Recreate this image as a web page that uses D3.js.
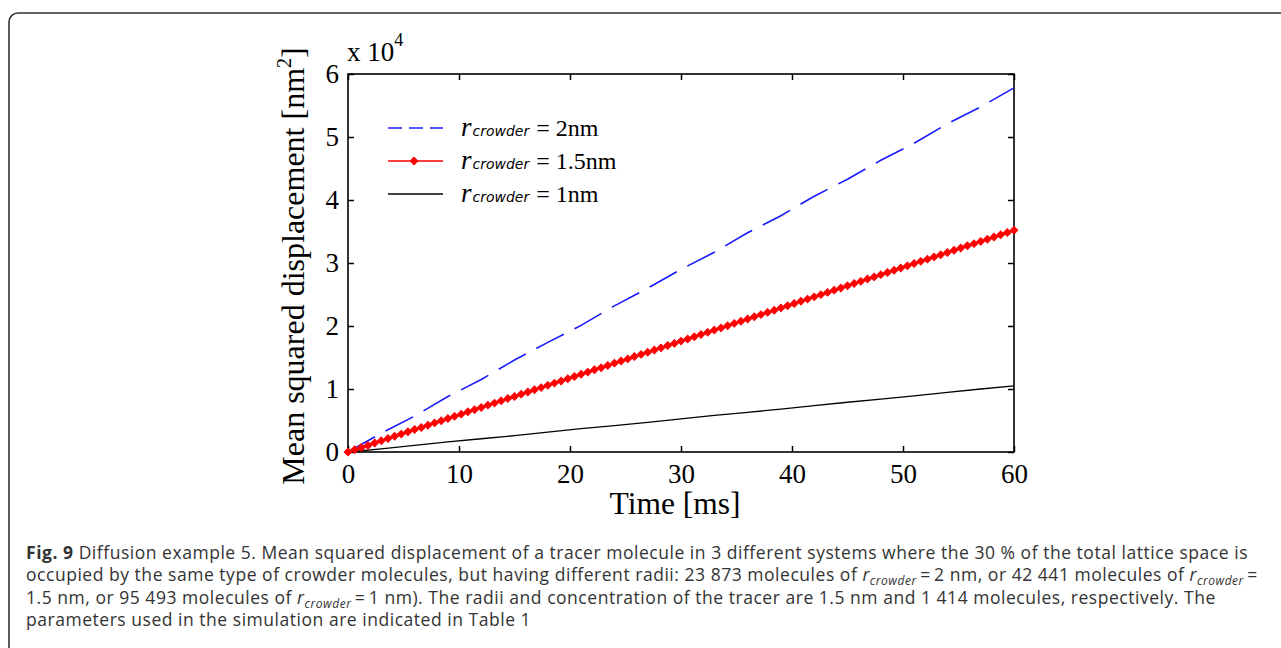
<!DOCTYPE html>
<html>
<head>
<meta charset="utf-8">
<script src="https://cdn.jsdelivr.net/npm/d3@7"></script>
<style>
  body { margin: 0; background: #fff; }
  svg { display: block; }
</style>
</head>
<body>
<script>
var svgWidth = 1281;
var svgHeight = 648;

// time grid of the red series (ms)
var timeFine = [0, 0.6, 1.2, 1.8, 2.4, 3, 3.6, 4.2, 4.8, 5.4, 6, 6.6, 7.2, 7.8, 8.4, 9, 9.6, 10.2, 10.8, 11.4,
  12, 12.6, 13.2, 13.8, 14.4, 15, 15.6, 16.2, 16.8, 17.4, 18, 18.6, 19.2, 19.8, 20.4, 21, 21.6, 22.2, 22.8, 23.4,
  24, 24.6, 25.2, 25.8, 26.4, 27, 27.6, 28.2, 28.8, 29.4, 30, 30.6, 31.2, 31.8, 32.4, 33, 33.6, 34.2, 34.8, 35.4,
  36, 36.6, 37.2, 37.8, 38.4, 39, 39.6, 40.2, 40.8, 41.4, 42, 42.6, 43.2, 43.8, 44.4, 45, 45.6, 46.2, 46.8, 47.4,
  48, 48.6, 49.2, 49.8, 50.4, 51, 51.6, 52.2, 52.8, 53.4, 54, 54.6, 55.2, 55.8, 56.4, 57, 57.6, 58.2, 58.8, 59.4, 60];

// r = 1.5nm, MSD in units of 1e4 nm^2
var msd15 = [0, 0.037, 0.072, 0.104, 0.143, 0.178, 0.214, 0.249, 0.284, 0.322, 0.356, 0.390, 0.425, 0.462, 0.495,
  0.531, 0.566, 0.601, 0.638, 0.672, 0.707, 0.744, 0.776, 0.812, 0.849, 0.882, 0.918, 0.953, 0.989, 1.022,
  1.058, 1.094, 1.127, 1.163, 1.199, 1.233, 1.268, 1.305, 1.338, 1.373, 1.410, 1.444, 1.478, 1.515, 1.549,
  1.584, 1.620, 1.653, 1.690, 1.724, 1.760, 1.794, 1.830, 1.866, 1.899, 1.935, 1.970, 2.005, 2.041, 2.075,
  2.111, 2.146, 2.181, 2.217, 2.251, 2.287, 2.322, 2.357, 2.393, 2.427, 2.463, 2.498, 2.533, 2.569, 2.603,
  2.639, 2.674, 2.709, 2.745, 2.779, 2.815, 2.850, 2.885, 2.921, 2.955, 2.991, 3.026, 3.061, 3.097, 3.131,
  3.167, 3.202, 3.237, 3.273, 3.307, 3.343, 3.378, 3.413, 3.449, 3.483, 3.520];

// coarser grid for the other two series
var timeCoarse = [0, 3, 6, 9, 12, 15, 18, 21, 24, 27, 30, 33, 36, 39, 42, 45, 48, 51, 54, 57, 60];
var msd2 = [0, 0.30, 0.57, 0.88, 1.15, 1.46, 1.74, 2.01, 2.32, 2.60, 2.90, 3.17, 3.48, 3.75, 4.06, 4.33, 4.63, 4.90, 5.21, 5.48, 5.78];
var msd1 = [0, 0.05, 0.105, 0.16, 0.21, 0.26, 0.315, 0.37, 0.42, 0.47, 0.525, 0.58, 0.63, 0.68, 0.735, 0.79, 0.84, 0.89, 0.945, 1.0, 1.05];

var xTicks = [0, 10, 20, 30, 40, 50, 60];
var yTicks = [0, 1, 2, 3, 4, 5, 6];
var legendLabels = ["2nm", "1.5nm", "1nm"];

var serif = "'Liberation Serif', 'Times New Roman', serif";
var sans = "'Open Sans', 'Noto Sans', sans-serif";

var svg = d3.select("body").append("svg").attr("width", svgWidth).attr("height", svgHeight);

// figure frame
svg.append("rect")
  .attr("x", 9).attr("y", 13)
  .attr("width", 1320).attr("height", 700)
  .attr("rx", 9)
  .attr("fill", "none")
  .attr("stroke", "#333")
  .attr("stroke-width", 1.6);

var x = d3.scaleLinear().domain([0, 60]).range([348, 1014]);
var y = d3.scaleLinear().domain([0, 6]).range([452, 74]);

// axes (ticks pointing inward)
var axB = svg.append("g").attr("transform", "translate(0,452)")
  .call(d3.axisBottom(x).tickValues(xTicks).tickFormat(d3.format("d")).tickSize(-6).tickPadding(12).tickSizeOuter(0));
var axL = svg.append("g").attr("transform", "translate(348,0)")
  .call(d3.axisLeft(y).tickValues(yTicks).tickFormat(d3.format("d")).tickSize(-6).tickPadding(9).tickSizeOuter(0));
var axT = svg.append("g").attr("transform", "translate(0,74)")
  .call(d3.axisTop(x).tickValues(xTicks).tickSize(-6).tickFormat("").tickSizeOuter(0));
var axR = svg.append("g").attr("transform", "translate(1014,0)")
  .call(d3.axisRight(y).tickValues(yTicks).tickSize(-6).tickFormat("").tickSizeOuter(0));

[axB, axL, axT, axR].forEach(function(a) {
  a.select(".domain").remove();
  a.selectAll("line").attr("stroke", "#000").attr("stroke-width", 1.5);
  a.selectAll("text").attr("font-family", serif).attr("font-size", 27).attr("fill", "#000");
});

svg.append("rect")
  .attr("x", x(0)).attr("y", y(6))
  .attr("width", x(60) - x(0)).attr("height", y(0) - y(6))
  .attr("fill", "none").attr("stroke", "#000").attr("stroke-width", 1.6);

// series
var line = d3.line()
  .x(function(d) { return x(d[0]); })
  .y(function(d) { return y(d[1]); });

var black = d3.zip(timeCoarse, msd1);
var blue = d3.zip(timeCoarse, msd2);
var red = d3.zip(timeFine, msd15);

svg.append("path").datum(black)
  .attr("d", line)
  .attr("fill", "none").attr("stroke", "#000").attr("stroke-width", 1.3);

svg.append("path").datum(blue)
  .attr("d", line)
  .attr("fill", "none").attr("stroke", "#1a1aff").attr("stroke-width", 1.6)
  .attr("stroke-dasharray", "31,12");

svg.append("path").datum(red)
  .attr("d", line)
  .attr("fill", "none").attr("stroke", "#ff0000").attr("stroke-width", 1.8);

var marker = d3.symbol().type(d3.symbolSquare).size(28);
svg.append("g").selectAll("path").data(red).join("path")
  .attr("d", marker)
  .attr("transform", function(d) { return "translate(" + x(d[0]) + "," + y(d[1]) + ") rotate(45)"; })
  .attr("fill", "#ff0000")
  .attr("stroke", "#ff0000")
  .attr("stroke-width", 1);

// legend
var legendY = [128, 161, 194];
var legend = svg.append("g");
legend.append("line").attr("x1", 388).attr("x2", 443).attr("y1", legendY[0]).attr("y2", legendY[0])
  .attr("stroke", "#1a1aff").attr("stroke-width", 1.6).attr("stroke-dasharray", "14,7");
legend.append("line").attr("x1", 388).attr("x2", 443).attr("y1", legendY[1]).attr("y2", legendY[1])
  .attr("stroke", "#ff0000").attr("stroke-width", 1.6);
legend.append("path").attr("d", marker)
  .attr("transform", "translate(414," + legendY[1] + ") rotate(45)")
  .attr("fill", "#ff0000").attr("stroke", "#ff0000");
legend.append("line").attr("x1", 388).attr("x2", 443).attr("y1", legendY[2]).attr("y2", legendY[2])
  .attr("stroke", "#000").attr("stroke-width", 1.3);

legendLabels.forEach(function(lab, i) {
  var t = legend.append("text")
    .attr("x", 461).attr("y", legendY[i] + 8)
    .attr("font-family", serif).attr("font-size", 24).attr("fill", "#000");
  t.append("tspan").attr("font-style", "italic").attr("font-size", 27).text("r");
  t.append("tspan").attr("font-family", "'DejaVu Sans', sans-serif").attr("font-style", "italic")
    .attr("font-size", 14).attr("dx", 1).text("crowder");
  t.append("tspan").attr("dx", 7).text("= " + lab);
});

// multiplier and axis labels
var mult = svg.append("text").attr("x", 347).attr("y", 61)
  .attr("font-family", serif).attr("font-size", 27).attr("fill", "#000");
mult.append("tspan").text("x 10");
mult.append("tspan").attr("font-size", 18).attr("dy", -15).text("4");

svg.append("text")
  .attr("x", 675).attr("y", 514)
  .attr("text-anchor", "middle")
  .attr("font-family", serif).attr("font-size", 31.5).attr("fill", "#000")
  .text("Time [ms]");

var yl = svg.append("text")
  .attr("transform", "translate(304,266) rotate(-90)")
  .attr("text-anchor", "middle")
  .attr("font-family", serif).attr("font-size", 32).attr("fill", "#000");
yl.append("tspan").text("Mean squared displacement [nm");
yl.append("tspan").attr("font-size", 20).attr("dy", -13).text("2");
yl.append("tspan").attr("dy", 13).text("]");

// caption
var capLines = [
  [["Fig. 9", "b"], [" Diffusion example 5. Mean squared displacement of a tracer molecule in 3 different systems where the 30 % of the total lattice space is", ""]],
  [["occupied by the same type of crowder molecules, but having different radii: 23 873 molecules of ", ""], ["r", "i"], ["crowder", "s"],
   ["\u2009=\u20092 nm, or 42 441 molecules of ", ""], ["r", "i"], ["crowder", "s"], ["\u2009=", ""]],
  [["1.5 nm, or 95 493 molecules of ", ""], ["r", "i"], ["crowder", "s"],
   ["\u2009=\u20091 nm). The radii and concentration of the tracer are 1.5 nm and 1 414 molecules, respectively. The", ""]],
  [["parameters used in the simulation are indicated in Table 1", ""]]
];
var capBase = [559, 581, 604, 626];

var capTexts = capLines.map(function(segs, i) {
  var t = svg.append("text")
    .attr("x", 26).attr("y", capBase[i])
    .attr("font-family", sans).attr("font-size", 17.5).attr("fill", "#333");
  var sub = false;
  segs.forEach(function(s) {
    var ts = t.append("tspan").text(s[0]);
    if (s[1] == "b") ts.attr("font-weight", "bold");
    if (s[1] == "i") ts.attr("font-style", "italic");
    if (s[1] == "s") {
      ts.attr("font-style", "italic").attr("font-size", 12).attr("dy", 4);
      sub = true;
    } else if (sub) {
      ts.attr("dy", -4);
      sub = false;
    }
  });
  return t;
});

// stretch letter spacing so the first line spans about the same width as the original
var w0 = capTexts[0].node().getComputedTextLength();
var n0 = capTexts[0].text().length;
var ls = (1222 - w0) / n0;
capTexts.forEach(function(t) { t.attr("letter-spacing", ls); });
</script>
</body>
</html>
